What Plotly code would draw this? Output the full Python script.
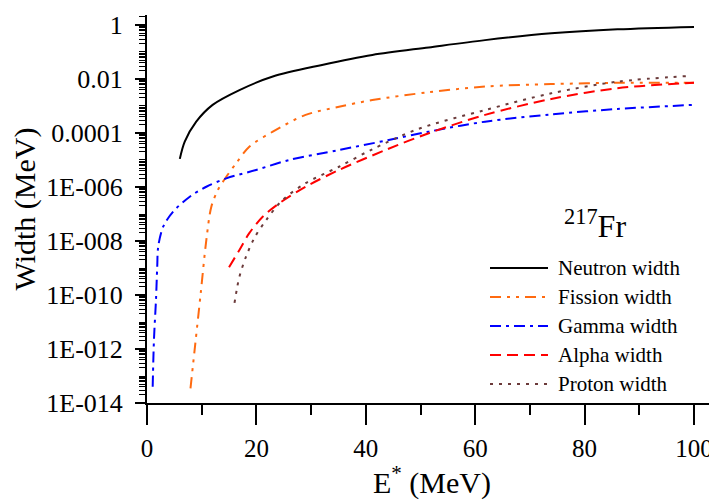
import plotly.graph_objects as go

# ---------------- data ----------------
neutron_E = [6.0, 6.9, 9.0, 12.0, 16.9, 23.0, 32.0, 41.2, 51.5, 61.8, 73.9, 86.0, 100.0]
neutron_W = [1.10e-5, 4.79e-5, 2.63e-4, 1.10e-3, 3.89e-3, 1.23e-2, 3.31e-2, 7.76e-2,
             0.148, 0.275, 0.490, 0.692, 0.851]

fission_E = [7.95, 8.84, 9.82, 10.85, 11.76, 12.96, 14.5, 16.3, 18.7, 23.0, 29.0, 35.1,
             41.2, 51.5, 61.8, 73.9, 86.0, 100.0]
fission_W = [3.5e-14, 1.66e-12, 1.17e-10, 1.10e-8, 1.86e-7, 7.76e-7, 2.40e-6, 7.59e-6,
             3.09e-5, 1.12e-4, 4.68e-4, 9.33e-4, 1.66e-3, 3.24e-3, 5.25e-3, 6.46e-3,
             7.24e-3, 7.24e-3]

gamma_E = [1.04, 1.27, 1.64, 1.87, 2.05, 2.96, 4.78, 7.82, 10.85, 14.5, 19.95, 26.0,
           35.1, 44.2, 51.5, 61.8, 73.9, 86.0, 100.0]
gamma_W = [4.0e-14, 2.14e-12, 6.46e-11, 1.12e-9, 6.17e-9, 3.39e-8, 1.23e-7, 4.37e-7,
           1.02e-6, 2.09e-6, 4.27e-6, 1.0e-5, 2.34e-5, 5.50e-5, 1.12e-4, 2.63e-4,
           4.90e-4, 7.76e-4, 1.10e-3]

alpha_E = [15.0, 16.9, 18.7, 21.15, 24.2, 29.0, 35.1, 43.6, 51.5, 61.8, 73.9, 86.0, 100.0]
alpha_W = [1.07e-9, 4.68e-9, 1.95e-8, 7.94e-8, 2.51e-7, 1.02e-6, 4.27e-6, 2.34e-5,
           9.77e-5, 4.68e-4, 1.82e-3, 4.57e-3, 7.24e-3]

proton_E = [16.0, 16.4, 16.9, 18.1, 19.6, 21.8, 24.8, 29.0, 35.1, 41.2, 49.6, 61.8,
            73.9, 86.0, 99.0]
proton_W = [5.1e-11, 1.55e-10, 4.79e-10, 2.63e-9, 1.26e-8, 6.03e-8, 3.31e-7, 1.38e-6,
            5.62e-6, 2.5e-5, 1.41e-4, 7.08e-4, 2.95e-3, 7.94e-3, 1.29e-2]

y_label_vals = [1, 1e-2, 1e-4, 1e-6, 1e-8, 1e-10, 1e-12, 1e-14]
y_label_text = ["1", "0.01", "0.0001", "1E-006", "1E-008", "1E-010", "1E-012", "1E-014"]
y_odd_decades = [1e-1, 1e-3, 1e-5, 1e-7, 1e-9, 1e-11, 1e-13]

series_names = ["Neutron width", "Fission width", "Gamma width", "Alpha width", "Proton width"]
series_colors = ["#000000", "#FF6A10", "#0000FF", "#FF0000", "#6B3A3A"]
series_dash = ["solid", "11px,6px,3px,6px,3px,6px", "11px,5px,3px,5px", "11px,6px", "3px,6px"]

FONT = "Liberation Serif, Times New Roman, serif"

fig = go.Figure()
data = [(neutron_E, neutron_W), (fission_E, fission_W), (gamma_E, gamma_W),
        (alpha_E, alpha_W), (proton_E, proton_W)]
for (ex, wy), name, col, dash in zip(data, series_names, series_colors, series_dash):
    fig.add_trace(go.Scatter(x=ex, y=wy, mode="lines", name=name,
                             line=dict(color=col, width=2, dash=dash,
                                       shape="spline", smoothing=0.9),
                             showlegend=False))

# page body has an 8px margin, so the figure is drawn 8px smaller and shifted
OFF = 8
FW, FH = 717 - OFF, 500 - OFF
L, T, B, R = 147 - OFF, 15 - OFF, 403 - OFF, FW
W, H = R - L, B - T


def px(x):
    return (x - OFF - L) / W


def py(y):
    return (B - (y - OFF)) / H


# manual legend (long line samples like the reference)
row_y = [268, 297, 326, 355, 384]
for name, col, dash, ry in zip(series_names, series_colors, series_dash, row_y):
    fig.add_shape(type="line", xref="paper", yref="paper",
                  x0=px(490), x1=px(548), y0=py(ry), y1=py(ry),
                  line=dict(color=col, width=2, dash=dash))
    fig.add_annotation(xref="paper", yref="paper", x=px(556), y=py(ry),
                       xanchor="left", yanchor="middle", showarrow=False,
                       text=name, font=dict(family=FONT, size=21, color="black"))

fig.add_annotation(xref="paper", yref="paper", x=px(562), y=py(246),
                   xanchor="left", yanchor="bottom", showarrow=False,
                   text="<sup>217</sup>Fr", font=dict(family=FONT, size=32, color="black"))

fig.update_layout(
    width=FW, height=FH,
    margin=dict(l=L, r=0, t=T, b=FH - B, autoexpand=False),
    paper_bgcolor="white", plot_bgcolor="white",
    font=dict(family=FONT, size=26, color="black"),
    xaxis=dict(range=[0, 104.2], showgrid=False, zeroline=False,
               showline=True, linecolor="black", linewidth=2,
               ticks="outside", tickmode="linear", tick0=0, dtick=20,
               ticklen=20, tickwidth=1.5, tickcolor="black",
               ticklabelstandoff=2,
               minor=dict(ticks="outside", dtick=10, tick0=0, ticklen=10,
                          tickwidth=1.5, tickcolor="black", showgrid=False),
               title=dict(text="E<sup>*</sup> (MeV)", font=dict(size=30), standoff=2),
               tickfont=dict(size=25)),
    yaxis=dict(type="log", range=[-14, 0.37], showgrid=False, zeroline=False,
               showline=True, linecolor="black", linewidth=2,
               ticks="outside", tickmode="array", tickvals=y_label_vals,
               ticktext=y_label_text, ticklen=10, tickwidth=1.5, tickcolor="black",
               ticklabelstandoff=7,
               minor=dict(ticks="outside", dtick="D1", ticklen=6, tickwidth=1,
                          tickcolor="black", showgrid=False),
               title=dict(text="Width (MeV)", font=dict(size=30), standoff=6),
               tickfont=dict(size=26)),
    yaxis2=dict(type="log", range=[-14, 0.37], overlaying="y", anchor="x", side="left",
                showgrid=False, zeroline=False, showline=False,
                ticks="outside", tickmode="array", tickvals=y_odd_decades,
                showticklabels=False, ticklen=10, tickwidth=1.5, tickcolor="black"),
)

fig.write_html("out.html")
